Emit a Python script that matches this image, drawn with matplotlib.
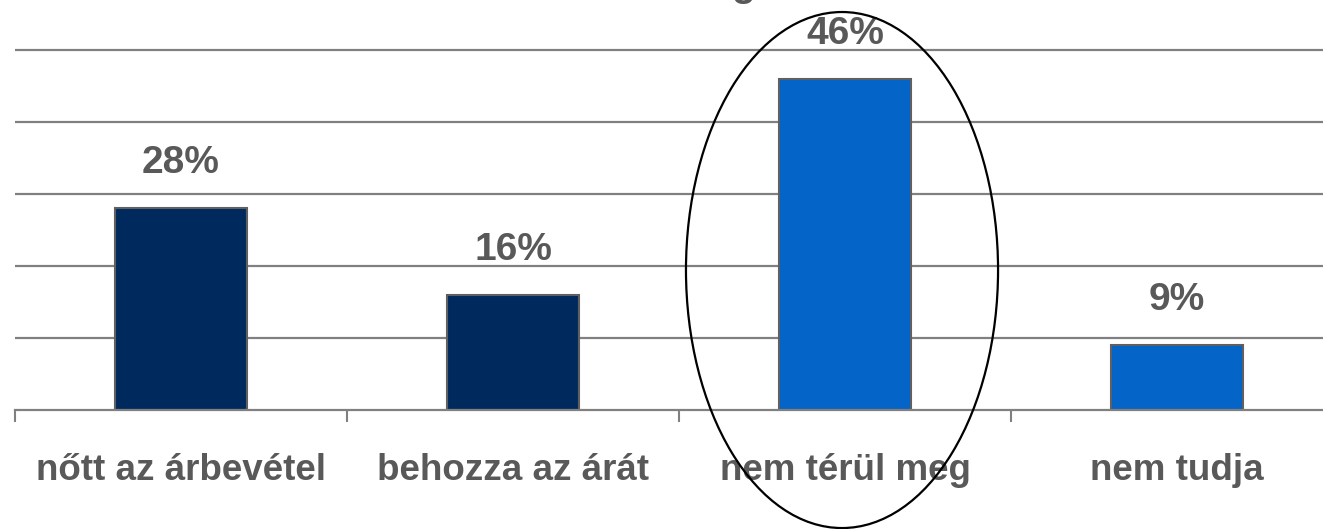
import matplotlib.pyplot as plt
from matplotlib.patches import Ellipse
from matplotlib.transforms import blended_transform_factory

categories = ["nőtt az árbevétel", "behozza az árát", "nem térül meg", "nem tudja"]
values = [0.28, 0.16, 0.46, 0.09]
value_labels = ["28%", "16%", "46%", "9%"]
bar_colors = ["#002A5E", "#002A5E", "#0464C8", "#0464C8"]

TEXT_COLOR = "#595959"
GRID_COLOR = "#808080"

plt.rcParams['font.family'] = ['Liberation Sans', 'DejaVu Sans']

fig = plt.figure(figsize=(13.23, 5.29), dpi=100)
W, H = 1323, 529
# axes runs past the right edge of the picture, like the original slide crop
ax = fig.add_axes([15 / W, (H - 410) / H, 1328 / W, 410 / H])

x = range(len(categories))
ax.bar(x, values, width=0.4, color=bar_colors, edgecolor="#606060", linewidth=1.5, zorder=3)

ax.set_xlim(-0.5, 3.5)
ax.set_ylim(0, 410 / 720)
ax.set_yticks([0.1, 0.2, 0.3, 0.4, 0.5])
ax.yaxis.grid(True, color=GRID_COLOR, linewidth=1.6)
ax.tick_params(axis="y", length=0, labelleft=False)

ax.set_xticks([-0.5, 0.5, 1.5, 2.5])
ax.set_xticklabels([])
ax.tick_params(axis="x", length=8.5, width=1.5, color=GRID_COLOR)

for side in ["top", "right", "left"]:
    ax.spines[side].set_visible(False)
ax.spines["bottom"].set_color(GRID_COLOR)
ax.spines["bottom"].set_linewidth(1.6)
ax.spines["bottom"].set_zorder(4)

# value labels above bars
for xi, v, lab in zip(x, values, value_labels):
    ax.text(xi, v + 35 / 720, lab, ha="center", va="baseline", fontsize=28,
            fontweight="bold", color=TEXT_COLOR, clip_on=False, zorder=5)

# category labels under the axis
trans = blended_transform_factory(ax.transData, ax.transAxes)
for xi, cat in zip(x, categories):
    ax.text(xi, -61 / 410, cat, transform=trans, ha="center", va="center",
            fontsize=26.5, fontweight="bold", color=TEXT_COLOR, clip_on=False)

# hand-drawn highlight ellipse around "nem térül meg"
ell = Ellipse((1.991, 0.1944), width=0.94, height=0.7167, fill=False,
              edgecolor="black", linewidth=1.6, clip_on=False, zorder=6)
ax.add_patch(ell)

# title is cut off at the top of the crop, only a descender remains
fig.text(743 / W, 1 + 4 / H, "g", ha="center", va="baseline", fontsize=28,
         fontweight="bold", color=TEXT_COLOR)

fig.savefig("out.png", dpi=100)
